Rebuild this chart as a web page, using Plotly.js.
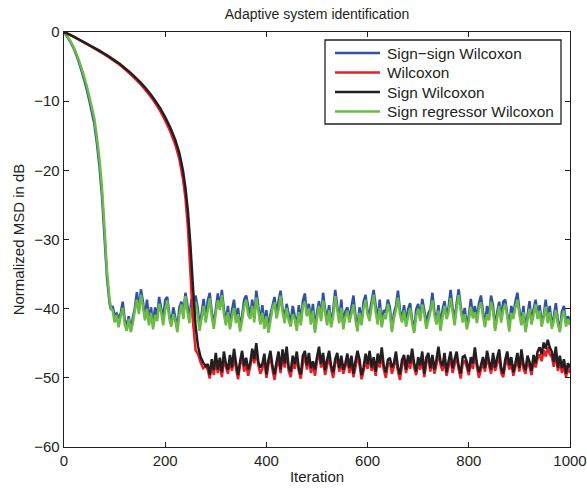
<!DOCTYPE html>
<html>
<head>
<meta charset="utf-8">
<script src="https://cdn.plot.ly/plotly-3.0.1.min.js"></script>
<style>html,body{margin:0;padding:0;background:#fff;}#chart{width:587px;height:488px;}</style>
</head>
<body>
<div id="chart"></div>
<script>
// ---- Data ----
var seriesNames = ["Sign\u2212sign Wilcoxon", "Wilcoxon", "Sign Wilcoxon", "Sign regressor Wilcoxon"];

// Fast-converging pair (Sign-sign, Sign regressor): transient
var fastTransIter = [0, 5, 10, 15, 20, 25, 30, 35, 40, 45, 50, 55, 60, 65, 70, 75, 80, 85, 90, 93];
var blueTrans  = [0, -0.55, -1.1, -1.75, -2.5, -3.45, -4.5, -5.7, -6.95, -8.35, -9.9, -11.6, -13.3, -16.1, -19.4, -23.7, -29.6, -35.6, -39.2, -40.2];
var greenTrans = [0, -0.5, -1.0, -1.6, -2.3, -3.2, -4.2, -5.3, -6.5, -7.8, -9.3, -10.9, -12.5, -15.2, -18.3, -22.4, -28.2, -34.5, -38.6, -40.0];

// Fast pair: steady state, every 4 iterations from 96 to 1000
var fastSteadyStart = 96, fastSteadyStep = 4;
var blueSteady = [
-39.6,-41.0,-40.7,-41.4,-40.7,-39.0,-41.6,-42.5,-41.1,-43.1,
-41.3,-39.9,-37.6,-40.2,-37.2,-39.0,-41.3,-38.7,-41.9,-39.8,
-42.3,-39.8,-41.4,-38.3,-39.9,-41.6,-38.7,-38.3,-40.7,-42.2,
-39.8,-41.3,-42.8,-39.8,-39.0,-40.7,-37.7,-39.5,-41.7,-38.6,
-40.8,-38.1,-39.8,-42.6,-40.7,-38.6,-41.6,-38.9,-37.7,-40.5,
-42.2,-40.1,-37.8,-39.8,-37.3,-40.1,-41.9,-39.6,-42.6,-40.2,
-38.7,-41.7,-39.9,-42.8,-41.0,-38.7,-38.1,-39.6,-41.1,-38.7,
-41.4,-37.4,-39.6,-41.9,-39.5,-42.3,-40.2,-43.0,-40.8,-39.6,
-38.3,-40.8,-38.9,-37.4,-40.1,-41.1,-39.3,-40.8,-41.9,-39.6,
-41.1,-42.5,-39.5,-41.9,-38.9,-37.8,-40.7,-39.3,-41.7,-39.3,
-43.0,-40.5,-38.9,-41.4,-37.7,-40.1,-41.4,-39.5,-42.3,-40.2,
-37.3,-39.6,-41.7,-38.7,-42.3,-40.4,-39.8,-41.6,-39.8,-38.1,
-41.0,-42.9,-39.8,-41.9,-39.0,-38.0,-40.5,-40.7,-38.9,-37.3,
-39.6,-41.7,-38.7,-42.3,-40.2,-40.5,-38.7,-39.8,-43.0,-40.7,
-39.6,-37.4,-40.2,-41.6,-39.5,-42.0,-40.1,-39.2,-41.6,-43.2,
-40.1,-39.3,-41.4,-38.6,-40.2,-42.2,-40.7,-40.1,-37.7,-40.4,
-41.9,-39.5,-42.6,-40.2,-38.9,-41.1,-39.8,-37.3,-39.9,-41.7,
-39.2,-37.2,-39.6,-41.6,-39.9,-42.5,-41.1,-38.6,-41.0,-39.6,
-41.6,-39.2,-38.1,-40.4,-42.3,-39.6,-41.1,-38.1,-39.6,-42.8,
-40.5,-39.0,-41.3,-39.0,-38.7,-40.8,-42.6,-39.6,-41.0,-39.0,
-37.7,-40.2,-42.0,-39.6,-43.0,-41.0,-38.9,-41.9,-40.1,-38.7,
-41.0,-39.5,-41.9,-41.0,-38.7,-41.6,-39.6,-42.5,-41.1,-39.2,
-41.7,-43.0,-40.4,-39.6,-42.0,-41.1,-41.7];
var greenSteady = [
-40.2,-42.0,-40.9,-42.7,-41.1,-39.9,-42.3,-43.2,-41.5,-43.4,
-42.1,-40.3,-38.7,-40.8,-38.0,-39.7,-41.7,-40.0,-42.4,-40.6,
-43.0,-40.9,-41.8,-39.3,-40.5,-42.4,-40.2,-38.8,-41.4,-42.6,
-40.8,-41.8,-43.4,-40.9,-39.4,-41.5,-38.2,-40.5,-42.1,-39.9,
-41.2,-39.0,-40.9,-43.2,-41.4,-39.6,-42.0,-40.3,-38.5,-41.1,
-42.9,-40.6,-38.8,-40.2,-38.0,-40.8,-42.4,-40.5,-43.0,-41.2,
-39.9,-42.1,-40.8,-43.3,-41.7,-39.7,-38.7,-40.9,-41.5,-39.6,
-42.0,-38.4,-40.3,-42.3,-40.6,-42.9,-41.1,-43.5,-41.8,-40.0,
-39.1,-41.4,-40.2,-38.1,-40.5,-42.1,-39.9,-41.7,-42.6,-40.8,
-41.5,-43.2,-40.5,-42.4,-39.7,-39.0,-41.1,-40.0,-42.3,-40.3,
-43.5,-41.4,-39.6,-41.8,-38.8,-40.6,-42.4,-40.2,-42.7,-41.1,
-38.2,-40.2,-42.1,-39.9,-43.0,-41.2,-40.3,-42.0,-40.8,-39.4,
-41.7,-43.3,-40.6,-42.4,-40.0,-38.7,-40.9,-41.8,-39.7,-38.0,
-40.5,-42.3,-39.9,-42.7,-40.9,-41.5,-39.3,-40.6,-43.4,-41.4,
-40.2,-38.4,-40.9,-42.0,-40.3,-42.6,-41.2,-39.9,-42.1,-43.5,
-41.1,-40.0,-41.8,-39.4,-40.8,-42.9,-41.7,-40.5,-38.8,-40.9,
-42.3,-40.3,-43.2,-41.2,-39.6,-41.5,-40.6,-38.5,-40.5,-42.4,
-39.9,-38.0,-40.2,-42.0,-40.8,-43.0,-41.8,-39.7,-41.4,-40.5,
-42.1,-40.0,-39.1,-41.1,-42.7,-40.8,-41.7,-39.0,-40.3,-43.2,
-41.4,-39.6,-42.0,-40.2,-39.3,-41.2,-43.3,-40.6,-41.5,-39.9,
-38.7,-40.8,-42.4,-40.5,-43.4,-41.7,-40.0,-42.3,-40.9,-39.4,
-41.5,-40.3,-42.6,-41.4,-39.7,-42.1,-40.5,-42.9,-41.8,-40.2,
-42.3,-43.4,-41.2,-40.3,-42.6,-41.5,-42.4];

// Slow-converging pair (Wilcoxon, Sign Wilcoxon): transient
var slowTransIter = [0, 10, 20, 30, 40, 50, 60, 70, 80, 90, 100, 110, 120, 130, 140, 150, 160, 170, 180, 190, 200, 210, 220, 228, 235, 240, 245, 250, 255, 260, 265, 270, 275, 280];
var redTrans   = [0, -0.35, -0.72, -1.12, -1.53, -1.95, -2.37, -2.8, -3.25, -3.72, -4.22, -4.75, -5.35, -6.0, -6.7, -7.45, -8.3, -9.2, -10.25, -11.4, -12.8, -14.4, -16.3, -18.4, -21.2, -24.0, -28.5, -35.0, -42.0, -46.0, -46.6, -47.8, -48.6, -48.3];
var blackTrans = [0, -0.35, -0.7, -1.1, -1.5, -1.9, -2.3, -2.7, -3.15, -3.6, -4.1, -4.6, -5.2, -5.8, -6.5, -7.2, -8.0, -8.9, -9.9, -11.0, -12.3, -13.8, -15.6, -17.5, -20.0, -22.5, -26.0, -31.0, -37.0, -42.5, -45.5, -47.0, -47.8, -48.3];

// Slow pair: steady state, every 4 iterations from 284 to 1000
var slowSteadyStart = 284, slowSteadyStep = 4;
var redSteady = [
-48.8,-50.1,-48.2,-49.6,-47.5,-49.3,-47.9,-49.9,-47.2,-48.5,
-49.4,-47.6,-49.0,-46.9,-48.7,-50.2,-48.1,-47.0,-49.1,-47.8,
-49.7,-48.4,-46.6,-47.9,-46.1,-48.2,-49.4,-48.7,-47.3,-50.0,
-48.1,-46.9,-48.8,-50.3,-48.4,-47.3,-49.3,-46.7,-48.5,-46.4,
-49.0,-49.9,-47.8,-48.7,-47.0,-49.1,-50.1,-47.9,-46.9,-48.8,
-47.2,-49.3,-48.1,-49.7,-47.6,-46.3,-48.5,-47.5,-49.6,-48.2,
-47.0,-48.8,-50.0,-47.9,-47.2,-49.1,-47.8,-49.4,-48.4,-47.3,
-49.3,-47.6,-49.9,-48.5,-46.7,-48.1,-50.2,-49.0,-47.5,-48.7,
-46.9,-49.0,-47.9,-49.7,-47.3,-48.5,-46.6,-48.8,-50.0,-48.1,
-47.8,-49.4,-48.4,-47.0,-49.1,-50.3,-48.2,-47.3,-49.3,-47.6,
-48.7,-46.7,-48.5,-49.6,-47.8,-48.8,-47.2,-49.9,-47.9,-47.0,
-49.1,-47.5,-49.4,-48.2,-46.3,-48.1,-49.0,-47.3,-49.7,-48.4,
-47.2,-49.3,-48.1,-46.9,-48.8,-50.1,-47.9,-47.5,-48.5,-49.6,
-47.6,-48.7,-46.6,-48.4,-50.0,-48.8,-47.8,-49.1,-47.0,-48.2,
-49.4,-47.3,-49.0,-47.9,-46.9,-49.3,-49.9,-48.2,-47.2,-48.8,
-47.8,-49.7,-48.5,-47.3,-49.1,-46.7,-48.7,-49.4,-47.6,-48.4,
-49.6,-47.5,-48.5,-47.2,-46.6,-47.6,-46.0,-46.9,-45.6,-46.6,
-47.0,-48.4,-46.4,-49.0,-47.6,-49.3,-48.1,-49.9,-48.5,-49.3];
var blackSteady = [
-48.0,-49.6,-47.3,-48.9,-46.4,-48.8,-47.1,-49.2,-46.2,-48.0,
-48.8,-46.7,-48.5,-45.8,-47.9,-49.6,-47.6,-46.1,-48.3,-47.1,
-48.8,-47.9,-45.8,-47.3,-45.0,-47.7,-48.5,-48.0,-46.5,-49.5,
-47.4,-46.1,-48.3,-49.5,-47.7,-46.2,-48.8,-45.9,-47.9,-45.5,
-48.5,-49.1,-46.8,-48.0,-46.2,-48.6,-49.5,-46.8,-46.1,-48.2,
-46.4,-48.6,-47.6,-48.8,-47.0,-45.5,-48.0,-46.4,-48.9,-47.4,
-46.1,-48.3,-49.2,-47.3,-46.4,-48.6,-46.8,-48.8,-47.9,-46.5,
-48.6,-46.8,-49.4,-47.6,-46.1,-47.3,-49.6,-48.5,-46.5,-48.0,
-46.1,-48.5,-47.0,-49.1,-46.5,-47.9,-45.6,-48.3,-49.2,-47.4,
-47.1,-48.5,-47.9,-46.2,-48.5,-49.5,-47.4,-46.7,-48.8,-46.7,
-47.9,-45.8,-47.9,-49.1,-47.0,-48.2,-46.2,-49.4,-47.1,-46.4,
-48.6,-46.7,-48.8,-47.3,-45.5,-47.6,-48.3,-46.4,-49.2,-47.6,
-46.2,-48.6,-47.3,-46.2,-48.3,-49.4,-47.0,-46.8,-47.7,-49.1,
-47.0,-47.9,-45.6,-47.9,-49.2,-48.2,-47.0,-48.6,-46.1,-47.6,
-48.8,-46.4,-48.5,-47.1,-45.9,-48.6,-49.4,-47.4,-46.2,-48.2,
-47.0,-49.2,-47.9,-46.4,-48.6,-45.9,-48.0,-48.9,-46.8,-47.7,
-49.0,-46.7,-47.9,-46.2,-45.6,-46.6,-44.9,-45.8,-44.5,-45.6,
-46.2,-47.7,-45.5,-48.5,-46.8,-48.6,-47.3,-49.4,-47.9,-48.5];

var xTicks = [0, 200, 400, 600, 800, 1000];
var yTicks = [0, -10, -20, -30, -40, -50, -60];
var legendOrder = [0, 1, 2, 3];   // Sign-sign, Wilcoxon, Sign, Sign regressor

// ---- Build series ----
function iterIndex(start, step, n) { var a = []; for (var i = 0; i < n; i++) a.push(start + i * step); return a; }
function joinSeries(tx, ty, start, step, sy) {
  return { x: tx.concat(iterIndex(start, step, sy.length)), y: ty.concat(sy) };
}
var blue  = joinSeries(fastTransIter, blueTrans, fastSteadyStart, fastSteadyStep, blueSteady);
var green = joinSeries(fastTransIter, greenTrans, fastSteadyStart, fastSteadyStep, greenSteady);
var red   = joinSeries(slowTransIter, redTrans, slowSteadyStart, slowSteadyStep, redSteady);
var black = joinSeries(slowTransIter, blackTrans, slowSteadyStart, slowSteadyStep, blackSteady);

var colors = ["#2f52a8", "#ec1c24", "#231f20", "#6cbb45"];
function tr(s, i) {
  return { x: s.x, y: s.y, type: "scatter", mode: "lines", name: seriesNames[i], showlegend: false,
           line: { color: colors[i], width: 2.5, simplify: false }, hoverinfo: "skip" };
}
var data = [tr(blue, 0), tr(green, 3), tr(red, 1), tr(black, 2)];

// ---- Legend box (drawn in pixel-derived paper coordinates) ----
var W = 587, H = 488, M = { l: 64, r: 17, t: 32, b: 41 };
var pw = W - M.l - M.r, ph = H - M.t - M.b;
function px(x) { return (x - M.l) / pw; }
function py(y) { return (H - M.b - y) / ph; }
var leg = { left: 325, right: 561, top: 40, bottom: 124, lineX0: 335, lineX1: 380, textX: 385, row0: 53, rowGap: 19.5 };
var font = "Liberation Sans, Arial, Helvetica, sans-serif";
var shapes = [{ type: "rect", xref: "paper", yref: "paper", x0: px(leg.left), x1: px(leg.right), y0: py(leg.bottom), y1: py(leg.top),
                fillcolor: "#fff", line: { color: "#231f20", width: 1.3 }, layer: "above" }];
var annotations = [];
legendOrder.forEach(function (k, r) {
  var yy = leg.row0 + r * leg.rowGap;
  shapes.push({ type: "line", xref: "paper", yref: "paper", x0: px(leg.lineX0), x1: px(leg.lineX1), y0: py(yy), y1: py(yy),
                line: { color: colors[k], width: 2.4 }, layer: "above" });
  annotations.push({ xref: "paper", yref: "paper", x: px(leg.textX), y: py(yy), xanchor: "left", yanchor: "middle",
                     text: seriesNames[k], showarrow: false, font: { family: font, size: 15.4, color: "#231f20" } });
});

var axisCommon = {
  showline: true, linecolor: "#231f20", linewidth: 1.3, mirror: "ticks",
  ticks: "inside", ticklen: 5, tickwidth: 1, tickcolor: "#231f20",
  showgrid: false, zeroline: false, tickfont: { family: font, size: 15, color: "#231f20" }
};
var layout = {
  width: W, height: H,
  margin: M,
  paper_bgcolor: "#fff", plot_bgcolor: "#fff",
  font: { family: font, color: "#231f20" },
  title: { text: "Adaptive system identification", font: { family: font, size: 14, color: "#231f20" },
           x: 0.5, xref: "paper", y: 0.972, yref: "container", yanchor: "middle" },
  xaxis: Object.assign({}, axisCommon, { range: [0, 1000], tickvals: xTicks, ticktext: xTicks.map(String),
           title: { text: "Iteration", font: { family: font, size: 15 }, standoff: 3 } }),
  yaxis: Object.assign({}, axisCommon, { range: [-60, 0], tickvals: yTicks,
           ticktext: yTicks.map(function (v) { return v < 0 ? "\u2212" + Math.abs(v) : String(v); }),
           title: { text: "Normalized MSD in dB", font: { family: font, size: 15 }, standoff: 6 } }),
  shapes: shapes,
  annotations: annotations,
  showlegend: false
};
Plotly.newPlot("chart", data, layout, { displayModeBar: false, staticPlot: true });
</script>
</body>
</html>
